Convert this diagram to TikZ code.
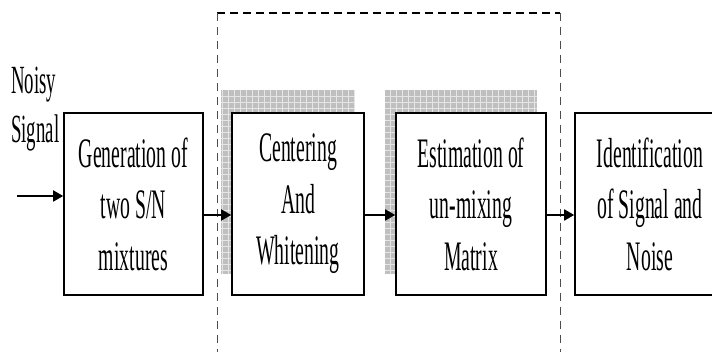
\documentclass[tikz,border=0pt]{standalone}
\usepackage{fontspec}
\setmainfont[FakeStretch=0.47]{Liberation Serif}
\usetikzlibrary{arrows.meta,backgrounds}

\begin{document}
\begin{tikzpicture}[x=1pt, y=-1pt,
        blok/.style={draw, line width=1.6pt, fill=white, minimum width=#1, minimum height=182pt,
                     inner sep=0pt, align=center, font=\fontsize{42}{51.5}\selectfont},
        flow/.style={-{Triangle[length=10pt,width=11pt]}, line width=1.8pt}]
    \useasboundingbox (0,0) rectangle (712,352);

    % the four stages
    \node[blok=139pt] (gen) at (133.5,204) {Generation of\\two S/N\\mixtures};
    \node[blok=132pt] (cw) at (298,204) {Centering\\And\\Whitening};
    \node[blok=150pt] (est) at (471,204) {Estimation of\\un-mixing\\Matrix};
    \node[blok=150pt] (idf) at (650,204) {Identification\\of Signal and\\Noise};

    \node[align=left, anchor=north west, inner sep=0pt, font=\fontsize{40}{49}\selectfont] (lbl) at (11,67) {Noisy\\Signal};

    % shaded backs
    \begin{scope}[on background layer]
        \foreach \b in {cw,est}{
            \fill[gray!50] ([shift={(-10,-22)}]\b.south west) rectangle ([shift={(-10,-22)}]\b.north east);
            \draw[white!80!gray, line width=0.4pt, step=6pt] ([shift={(-10,-22)}]\b.south west) grid ([shift={(-10,-22)}]\b.north east);
        }
    \end{scope}

    % dashed frame
    \draw[line width=2pt, dash pattern=on 8pt off 5pt] (217,13) -- (560,13);
    \draw[black!70, line width=0.8pt, dash pattern=on 8pt off 6pt] (217,13) -- (217,360) (560,13) -- (560,360);

    % arrows
    \coordinate (in) at (17,196);
    \draw[flow] (in) -- (in -| gen.west);
    \draw[flow] ([yshift=-11pt]gen.east) -- ([yshift=-11pt]cw.west);
    \draw[flow] ([yshift=-11pt]cw.east) -- ([yshift=-11pt]est.west);
    \draw[flow] ([yshift=-11pt]est.east) -- ([yshift=-11pt]idf.west);
\end{tikzpicture}
\end{document}
